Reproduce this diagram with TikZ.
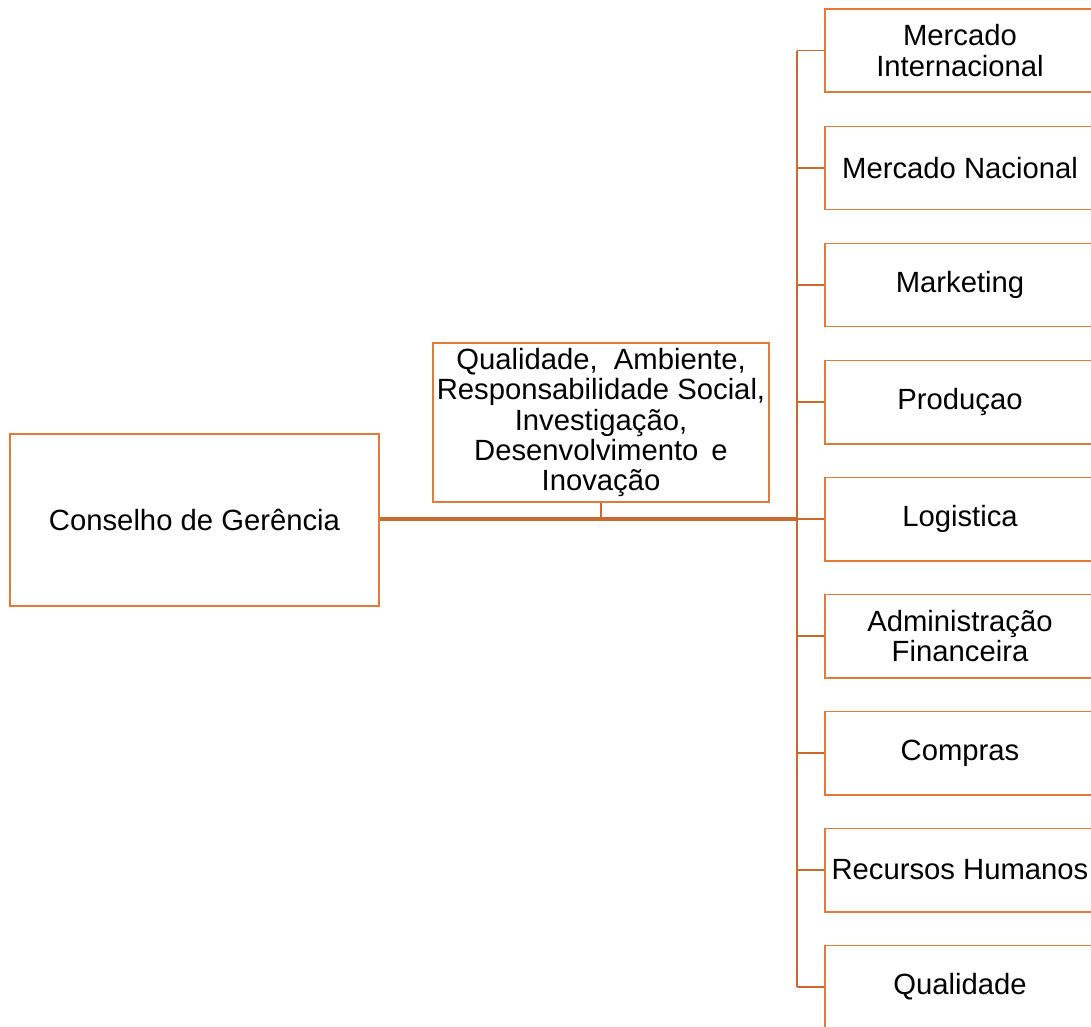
\documentclass[tikz,border=0pt]{standalone}
\usepackage{fontspec}
\setmainfont{Liberation Sans}
\definecolor{boxorange}{HTML}{E07B39}
\definecolor{lineorange}{HTML}{C8692E}
\tikzset{
  unitbox/.style={draw=boxorange, line width=1.4pt, fill=white, align=center,
    font=\fontsize{20.8}{21.5}\selectfont, inner xsep=0pt, inner ysep=2pt},
  deptbox/.style={unitbox, minimum width=6.75cm, minimum height=2.075cm},
  link/.style={draw=lineorange, line width=1.4pt}
}
\begin{document}
\begin{tikzpicture}[x=0.025cm,y=-0.025cm]
        \useasboundingbox (0,0) rectangle (1091,1026);

        % Board and staff unit
        \node[unitbox, minimum width=9.225cm, minimum height=4.3cm] (board) at (194.5,520) {Conselho de Gerência};
        \node[unitbox, minimum width=8.4cm, minimum height=3.975cm] (staff) at (601,422.5)
          {Qualidade,\ \ Ambiente,\\ Responsabilidade Social,\\ Investigação,\\ Desenvolvimento\ \,e\\ Inovação};

        % Departments
        \node[deptbox] (intl) at (960,50.5) {Mercado\\ Internacional};
        \node[deptbox] (natl) at (960,168) {Mercado Nacional};
        \node[deptbox] (mkt) at (960,285) {Marketing};
        \node[deptbox] (prod) at (960,402) {Produçao};
        \node[deptbox] (logi) at (960,519) {Logistica};
        \node[deptbox] (adm) at (960,636) {Administração\\ Financeira};
        \node[deptbox] (buy) at (960,753) {Compras};
        \node[deptbox] (hr) at (960,870) {Recursos Humanos};
        \node[deptbox] (qual) at (960,987) {Qualidade};

        % Bus points
        \coordinate (b1) at (797,50.5);
        \coordinate (b2) at (797,168);
        \coordinate (b3) at (797,285);
        \coordinate (b4) at (797,402);
        \coordinate (b5) at (797,519);
        \coordinate (b6) at (797,636);
        \coordinate (b7) at (797,753);
        \coordinate (b8) at (797,870);
        \coordinate (b9) at (797,987);
        \coordinate (tee) at (601,519);

        % Main line and staff link
        \draw[link, line width=2.4pt] (board.east |- b5) -- (b5);
        \draw[link] (staff.south) -- (tee);

        % Vertical bus and stubs
        \draw[link] (b1) -- (b9);
        \draw[link] (b1) -- (intl.west);
        \draw[link] (b2) -- (natl.west);
        \draw[link] (b3) -- (mkt.west);
        \draw[link] (b4) -- (prod.west);
        \draw[link] (b5) -- (logi.west);
        \draw[link] (b6) -- (adm.west);
        \draw[link] (b7) -- (buy.west);
        \draw[link] (b8) -- (hr.west);
        \draw[link] (b9) -- (qual.west);
    \end{tikzpicture}
\end{document}
